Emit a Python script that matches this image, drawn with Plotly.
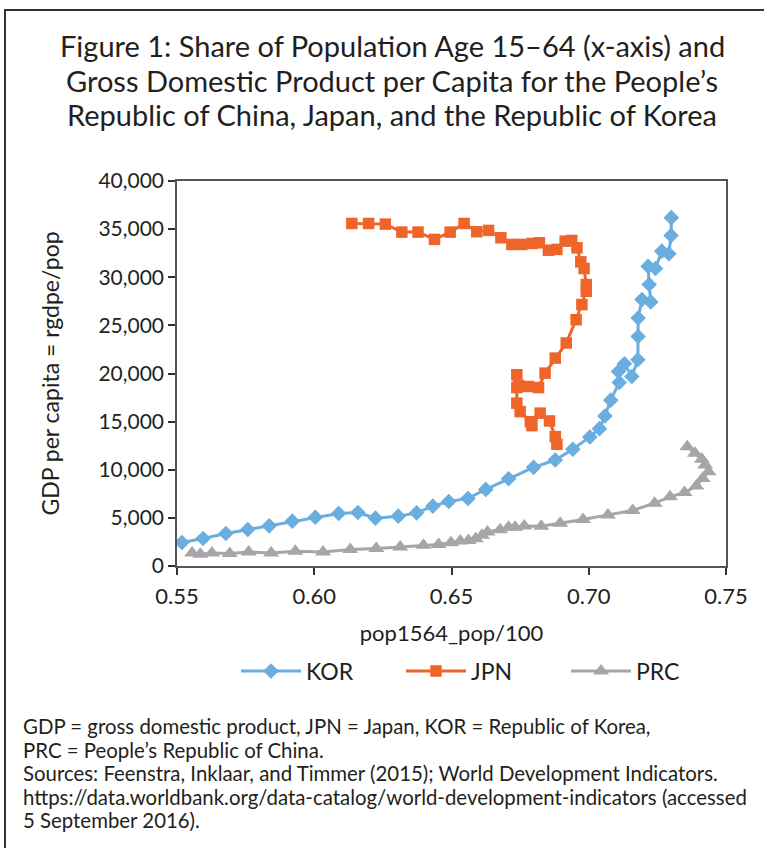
import plotly.graph_objects as go

# ---------------- data ----------------
kor_x = [0.5518, 0.5595, 0.5678, 0.5758, 0.5836, 0.5920, 0.6004, 0.6089, 0.6159, 0.6223,
         0.6306, 0.6373, 0.6432, 0.6490, 0.6560, 0.6625, 0.6708, 0.6799, 0.6878, 0.6942,
         0.7004, 0.7039, 0.7059, 0.7080, 0.7111, 0.7108, 0.7130, 0.7157, 0.7179, 0.7180,
         0.7180, 0.7194, 0.7226, 0.7220, 0.7216, 0.7243, 0.7266, 0.7292, 0.7300, 0.7301]
kor_y = [2440, 2850, 3380, 3790, 4170, 4660, 5070, 5460, 5560, 4970,
         5180, 5520, 6220, 6700, 7020, 7960, 9060, 10250, 11010, 12130,
         13410, 14270, 15590, 17230, 19060, 20210, 21010, 19690, 21430, 23850,
         25770, 27680, 27440, 29240, 31150, 30910, 32710, 32440, 34340, 36190]

jpn_x = [0.6884, 0.6878, 0.6857, 0.6823, 0.6793, 0.6787, 0.6750, 0.6738, 0.6738, 0.6738,
         0.6744, 0.6780, 0.6817, 0.6841, 0.6878, 0.6918, 0.6954, 0.6975, 0.6991, 0.6991,
         0.6983, 0.6971, 0.6957, 0.6938, 0.6914, 0.6884, 0.6853, 0.6820, 0.6793, 0.6756,
         0.6720, 0.6680, 0.6635, 0.6592, 0.6546, 0.6495, 0.6438, 0.6378, 0.6319, 0.6259,
         0.6198, 0.6137]
jpn_y = [12650, 13440, 15070, 15880, 14580, 15000, 16040, 16920, 18540, 19870,
         18750, 18650, 18540, 20040, 21600, 23170, 25590, 27160, 28540, 29240,
         30910, 31600, 33060, 33820, 33750, 32890, 32810, 33580, 33510, 33410,
         33410, 34100, 34870, 34730, 35590, 34690, 33930, 34690, 34690, 35520,
         35590, 35590]

prc_x = [0.5555, 0.5585, 0.5627, 0.5692, 0.5761, 0.5843, 0.5931, 0.6032, 0.6131, 0.6226,
         0.6313, 0.6398, 0.6453, 0.6498, 0.6532, 0.6562, 0.6588, 0.6611, 0.6631, 0.6677,
         0.6708, 0.6732, 0.6765, 0.6827, 0.6896, 0.6979, 0.7070, 0.7160, 0.7240, 0.7296,
         0.7349, 0.7392, 0.7415, 0.7436, 0.7424, 0.7412, 0.7387, 0.7359]
prc_y = [1350, 1220, 1350, 1290, 1460, 1350, 1530, 1460, 1710, 1810,
         1980, 2160, 2230, 2420, 2600, 2650, 2830, 3200, 3540, 3770,
         4030, 4030, 4160, 4140, 4450, 4830, 5310, 5770, 6530, 7190,
         7630, 8300, 9100, 9790, 10490, 11080, 11710, 12400]

x_ticks = [0.55, 0.60, 0.65, 0.70, 0.75]
x_tick_text = ["0.55", "0.60", "0.65", "0.70", "0.75"]
y_ticks = [0, 5000, 10000, 15000, 20000, 25000, 30000, 35000, 40000]
y_tick_text = ["0", "5,000", "10,000", "15,000", "20,000", "25,000", "30,000", "35,000", "40,000"]

title_lines = ["Figure 1: Share of Population Age 15–64 (x-axis) and",
               "Gross Domestic Product per Capita for the People’s",
               "Republic of China, Japan, and the Republic of Korea"]
note_lines = ["GDP = gross domestic product, JPN = Japan, KOR = Republic of Korea,",
              "PRC = People’s Republic of China.",
              "Sources: Feenstra, Inklaar, and Timmer (2015); World Development Indicators.",
              "https://data.worldbank.org/data-catalog/world-development-indicators (accessed",
              "5 September 2016)."]

# ---------------- styling ----------------
W, H = 764, 848
ML, MR, MT, MB = 177, 38, 181, 282
PW, PH = W - ML - MR, H - MT - MB
FONT = "Lato"
TXT = "#231f20"
KOR_C, JPN_C, PRC_C = "#6aaddf", "#ef6529", "#a6a6a9"


def px2paper_x(px):
    return (px - ML) / PW


def py2paper_y(py):
    return (H - MB - py) / PH


fig = go.Figure()
fig.add_trace(go.Scatter(x=kor_x, y=kor_y, name="KOR", mode="lines+markers",
                         line=dict(color=KOR_C, width=3),
                         marker=dict(symbol="diamond", size=12, color=KOR_C)))
fig.add_trace(go.Scatter(x=jpn_x, y=jpn_y, name="JPN", mode="lines+markers",
                         line=dict(color=JPN_C, width=3),
                         marker=dict(symbol="square", size=11.5, color=JPN_C)))
fig.add_trace(go.Scatter(x=prc_x, y=prc_y, name="PRC", mode="lines+markers",
                         line=dict(color=PRC_C, width=3),
                         marker=dict(symbol="triangle-up", size=14, color=PRC_C)))

annotations = []
for i, t in enumerate(title_lines):
    annotations.append(dict(text=t, x=px2paper_x(392), y=py2paper_y(45 + i * 35),
                            xref="paper", yref="paper", xanchor="center", yanchor="middle",
                            showarrow=False, font=dict(family=FONT, size=29, color=TXT)))
for i, t in enumerate(note_lines):
    annotations.append(dict(text=t, x=px2paper_x(21), y=py2paper_y(726 + i * 23.6),
                            xref="paper", yref="paper", xanchor="left", yanchor="middle",
                            showarrow=False, font=dict(family=FONT, size=20.4, color=TXT)))

fig.update_layout(
    width=W, height=H,
    margin=dict(l=ML, r=MR, t=MT, b=MB, pad=0),
    paper_bgcolor="white", plot_bgcolor="white",
    font=dict(family=FONT, color=TXT),
    showlegend=True,
    legend=dict(orientation="h", x=px2paper_x(236), xanchor="left", y=py2paper_y(671), yanchor="middle",
                font=dict(family=FONT, size=23, color=TXT), itemwidth=60,
                entrywidth=90, entrywidthmode="pixels",
                bgcolor="rgba(0,0,0,0)", tracegroupgap=0),
    annotations=annotations,
    shapes=[
        dict(type="line", xref="paper", yref="paper", x0=px2paper_x(4), x1=px2paper_x(770),
             y0=py2paper_y(10), y1=py2paper_y(10), line=dict(color="#333333", width=2)),
        dict(type="line", xref="paper", yref="paper", x0=px2paper_x(5), x1=px2paper_x(5),
             y0=py2paper_y(10), y1=py2paper_y(860), line=dict(color="#333333", width=2)),
    ],
)
fig.update_xaxes(range=[0.55, 0.75], tickvals=x_ticks, ticktext=x_tick_text,
                 showgrid=False, zeroline=False, showline=True, mirror=True,
                 linecolor="#555555", linewidth=1.5, ticks="outside", ticklen=7,
                 tickcolor="#333333", tickwidth=1.5, ticklabelstandoff=3,
                 tickfont=dict(family=FONT, size=22, color=TXT),
                 title=dict(text="pop1564_pop/100", font=dict(family=FONT, size=22, color=TXT),
                            standoff=17))
fig.update_yaxes(range=[0, 40000], tickvals=y_ticks, ticktext=y_tick_text,
                 showgrid=False, zeroline=False, showline=True, mirror=True,
                 linecolor="#555555", linewidth=1.5, ticks="outside", ticklen=7,
                 tickcolor="#333333", tickwidth=1.5,
                 tickfont=dict(family=FONT, size=21, color=TXT),
                 title=dict(text="GDP per capita = rgdpe/pop", font=dict(family=FONT, size=23, color=TXT),
                            standoff=32))

fig.write_html("out.html", config={"displayModeBar": False},
               post_script="document.body.style.margin='0px';")
